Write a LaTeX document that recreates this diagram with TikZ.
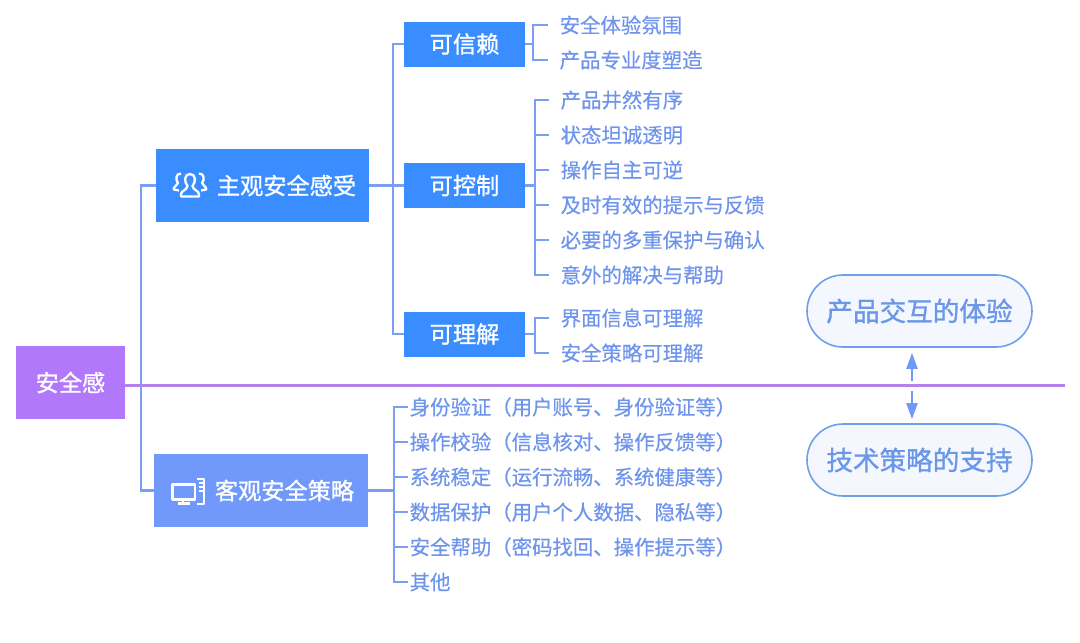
\documentclass[tikz,border=0pt]{standalone}
\usepackage{fontspec}
\setmainfont{Noto Sans CJK SC}[FakeBold=0.45]
\newfontfamily\heavyfont{Noto Sans CJK SC}[FakeBold=1.1]
\usetikzlibrary{arrows.meta}

\definecolor{rootcol}{HTML}{B178FB}
\definecolor{maincol}{HTML}{3A8DFF}
\definecolor{techcol}{HTML}{7199FB}
\definecolor{linecol}{HTML}{7C9EF5}
\definecolor{leafcol}{HTML}{6F94EC}
\definecolor{pillcol}{HTML}{F4F8FE}
\definecolor{pillline}{HTML}{6F9FE8}
\definecolor{pilltxt}{HTML}{6B97E8}
\definecolor{dividercol}{HTML}{B580EE}

\begin{document}
\begin{tikzpicture}[x=1pt,y=-1pt]
%%%%%%%%%%%%%%%%%%%%%%%%%%%%%%%%%%%%%%%%%%%%%%%%%%%%%%%%
% STYLE
\tikzstyle{box}=[rectangle,text=white,inner sep=0pt,minimum height=73pt,minimum width=213pt,font=\heavyfont\fontsize{23.2}{26}\selectfont]
\tikzstyle{sub}=[rectangle,fill=maincol,text=white,inner sep=0pt,minimum height=45pt,minimum width=121pt,font=\heavyfont\fontsize{23.2}{26}\selectfont]
\tikzstyle{leaf}=[anchor=west,text=leafcol,inner ysep=0pt,inner xsep=11.5pt,font=\fontsize{20.4}{24}\selectfont]
\tikzstyle{item}=[anchor=west,text=leafcol,inner ysep=0pt,inner xsep=1.5pt,font=\fontsize{20.4}{24}\selectfont]
\tikzstyle{pill}=[rectangle,rounded corners=36pt,draw=pillline,fill=pillcol,line width=1.6pt,text=pilltxt,minimum width=225pt,minimum height=72pt,font=\heavyfont\fontsize{26.6}{30}\selectfont]
\tikzstyle{icon}=[draw=white,line width=2.3pt,line join=round]

\tikzset{link/.style={draw=linecol,line width=2.1pt}}
\tikzset{divider/.style={draw=dividercol,line width=2.2pt}}
\tikzset{dir/.style={draw=techcol,line width=2.2pt,-{Triangle[length=16pt,width=11pt]}}}

\useasboundingbox (0,0) rectangle (1080,643);

%%%%%%%%%%%%%%%%%%%%%%%%%%%%%%%%%%%%%%%%%%%%%%%%%%%%%%%%
% NODES
\node[box,fill=rootcol,minimum width=109pt] (root) at (70.5,382.5) {\raisebox{-1pt}{安全感}};
\node[box,fill=maincol] (subj) at (262.5,185.5) {\hspace*{48pt}\raisebox{-1pt}{主观安全感受}};
\node[box,fill=techcol,minimum width=214pt] (obj) at (261,490.5) {\hspace*{47pt}\raisebox{-1pt}{客观安全策略}};

\node[sub] (trust) at (464.5,44) {\raisebox{-1pt}{可信赖}};
\node[sub] (ctrl) at (464.5,185.5) {\raisebox{-1pt}{可控制}};
\node[sub] (know) at (464.5,334) {\raisebox{-1pt}{可理解}};

\node[leaf] (L1) at (548,25) {\raisebox{-1pt}{安全体验氛围}};
\node[leaf] (L2) at (548,60) {\raisebox{-1pt}{产品专业度塑造}};

\node[leaf] (L3) at (549,100) {\raisebox{-1pt}{产品井然有序}};
\node[leaf] (L4) at (549,135) {\raisebox{-1pt}{状态坦诚透明}};
\node[leaf] (L5) at (549,170) {\raisebox{-1pt}{操作自主可逆}};
\node[leaf] (L6) at (549,205) {\raisebox{-1pt}{及时有效的提示与反馈}};
\node[leaf] (L7) at (549,240) {\raisebox{-1pt}{必要的多重保护与确认}};
\node[leaf] (L8) at (549,275) {\raisebox{-1pt}{意外的解决与帮助}};

\node[leaf] (L9) at (549,318) {\raisebox{-1pt}{界面信息可理解}};
\node[leaf] (L10) at (549,353) {\raisebox{-1pt}{安全策略可理解}};

\node[item] (T1) at (408,407) {\raisebox{-1pt}{身份验证（用户账号、身份验证等）}};
\node[item] (T2) at (408,442) {\raisebox{-1pt}{操作校验（信息核对、操作反馈等）}};
\node[item] (T3) at (408,477) {\raisebox{-1pt}{系统稳定（运行流畅、系统健康等）}};
\node[item] (T4) at (408,512) {\raisebox{-1pt}{数据保护（用户个人数据、隐私等）}};
\node[item] (T5) at (408,547) {\raisebox{-1pt}{安全帮助（密码找回、操作提示等）}};
\node[item] (T6) at (408,582) {\raisebox{-1pt}{其他}};

\node[pill] (ux) at (919.5,311) {\raisebox{-4pt}{产品交互的体验}};
\node[pill] (tech) at (919.5,460) {\raisebox{-5pt}{技术策略的支持}};

\coordinate (dividerend) at (1065,385.5);
\coordinate (dividerroot) at (125,385.5);
\coordinate (upstart) at (912,381);
\coordinate (downstart) at (912,391);
\coordinate (subfork) at (393,185.5);
\coordinate (trustfork) at (533,44);
\coordinate (ctrlfork) at (535,185.5);
\coordinate (knowfork) at (535,334);
\coordinate (objfork) at (394,490.5);

%%%%%%%%%%%%%%%%%%%%%%%%%%%%%%%%%%%%%%%%%%%%%%%%%%%%%%%%
% LINKS
\draw[divider] (dividerroot) -- (dividerend);
\draw[link] (subj.west) -- ++(-15,0) |- (obj.west);

\draw[link] (subj.east) -- (subfork);
\draw[link] (subfork) |- (trust.west);
\draw[link] (subfork) -- (ctrl.west);
\draw[link] (subfork) |- (know.west);

\draw[link] (trust.east) -- (trustfork);
\draw[link] (trustfork) |- (L1.west);
\draw[link] (trustfork) |- (L2.west);

\draw[link] (ctrl.east) -- (ctrlfork);
\draw[link] (ctrlfork) |- (L3.west);
\draw[link] (ctrlfork) |- (L4.west);
\draw[link] (ctrlfork) |- (L5.west);
\draw[link] (ctrlfork) |- (L6.west);
\draw[link] (ctrlfork) |- (L7.west);
\draw[link] (ctrlfork) |- (L8.west);

\draw[link] (know.east) -- (knowfork);
\draw[link] (knowfork) |- (L9.west);
\draw[link] (knowfork) |- (L10.west);

\draw[link] (obj.east) -- (objfork);
\draw[link] (objfork) |- (T1.west);
\draw[link] (objfork) |- (T2.west);
\draw[link] (objfork) |- (T3.west);
\draw[link] (objfork) |- (T4.west);
\draw[link] (objfork) |- (T5.west);
\draw[link] (objfork) |- (T6.west);

\draw[dir,shorten >=5pt] (upstart) -- (upstart |- ux.south);
\draw[dir,shorten >=4pt] (downstart) -- (downstart |- tech.north);

%%%%%%%%%%%%%%%%%%%%%%%%%%%%%%%%%%%%%%%%%%%%%%%%%%%%%%%%
% ICONS
\draw[icon] (181,196.5) -- (199,196.5) -- (199,194) .. controls (199,191) and (193,190) .. (192.5,186)
  .. controls (196,182) and (196,174) .. (190,174) .. controls (184,174) and (184,182) .. (187.5,186)
  .. controls (187,190) and (181,191) .. (181,194) -- cycle;
\draw[icon] (181,173.5) .. controls (176,173) and (175,180) .. (178,183)
  .. controls (177,186) and (173,187) .. (173.8,189.5) -- (179,190.5);
\draw[icon] (199,173.5) .. controls (204,173) and (205,180) .. (202,183)
  .. controls (203,186) and (207,187) .. (206.2,189.5) -- (201,190.5);

\draw[icon] (172.5,484.5) rectangle (195,499.5);
\draw[icon] (183,500) -- (183,502);
\draw[icon] (178,503.5) -- (190,503.5);
\draw[icon] (197,479) -- (204,479) -- (204,504) -- (197,504);
\draw[icon,line width=1.2pt] (199,483) -- (204,483);
\draw[icon,line width=1.2pt] (199,487) -- (204,487);
\draw[icon,line width=1.2pt] (199,491) -- (204,491);
\end{tikzpicture}
\end{document}
